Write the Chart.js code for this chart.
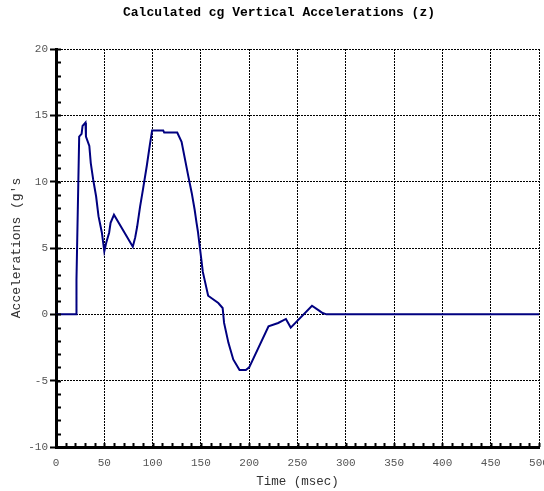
<!DOCTYPE html>
<html>
<head>
<meta charset="utf-8">
<script src="https://cdn.jsdelivr.net/npm/chart.js@4.4.0/dist/chart.umd.min.js"></script>
<style>
  html, body { margin: 0; padding: 0; background: #fff; }
</style>
</head>
<body>
<canvas id="accChart" width="544" height="491"></canvas>
<script>
// cg vertical acceleration trace, time in msec, acceleration in g's
const timeMs = [0, 21, 21.2, 24, 26.5, 27.5, 30.5, 31, 34.5, 36, 38.5, 41.5, 44, 47.5, 50,
  52, 55, 56.5, 60, 79.5, 82, 84, 87, 90, 94, 97, 99.5, 111, 112, 125.5,
  130, 133.5, 137, 140.5, 143.5, 145.5, 147, 149, 152, 157.5, 168, 172.5, 174, 178.5, 183.5,
  190, 196.5, 200, 220, 230, 238, 243, 265, 272, 276, 280, 500];
const accelG = [0, 0, 2.6, 13.4, 13.6, 14.2, 14.45, 13.4, 12.7, 11.4, 10.15, 8.9, 7.4, 6.15, 4.75,
  5.4, 6.15, 6.9, 7.5, 5.1, 5.8, 6.6, 8.1, 9.4, 11.2, 12.7, 13.85, 13.85, 13.7, 13.7,
  13.0, 11.7, 10.4, 9.15, 7.9, 6.9, 6.2, 5.0, 3.2, 1.4, 0.85, 0.48, -0.65, -2.15, -3.4,
  -4.2, -4.2, -4.0, -0.9, -0.65, -0.35, -1.0, 0.65, 0.3, 0.1, 0, 0];

const xTickValues = [0, 50, 100, 150, 200, 250, 300, 350, 400, 450, 500];
const yTickValues = [-10, -5, 0, 5, 10, 15, 20];
const xMinorStep = 10;
const yMinorStep = 1;

const mono = '"Liberation Mono", "Courier New", monospace';

// small inward tick marks between the labelled ones
const minorTicks = {
  id: 'minorTicks',
  afterDraw(chart) {
    const {ctx, chartArea, scales: {x, y}} = chart;
    ctx.save();
    ctx.strokeStyle = '#000';
    ctx.lineWidth = 2;
    ctx.beginPath();
    for (let v = y.min; v <= y.max; v += yMinorStep) {
      const py = Math.round(y.getPixelForValue(v)) + 0.5;
      ctx.moveTo(chartArea.left, py);
      ctx.lineTo(chartArea.left + 5, py);
    }
    for (let v = x.min; v <= x.max; v += xMinorStep) {
      const px = Math.round(x.getPixelForValue(v)) + 0.5;
      ctx.moveTo(px, chartArea.bottom);
      ctx.lineTo(px, chartArea.bottom - 4);
    }
    ctx.stroke();
    ctx.restore();
  }
};

const heading = {
  id: 'heading',
  afterDraw(chart) {
    const ctx = chart.ctx;
    ctx.save();
    ctx.font = 'bold 13px ' + mono;
    ctx.fillStyle = '#000';
    ctx.textAlign = 'center';
    ctx.textBaseline = 'middle';
    ctx.fillText('Calculated cg Vertical Accelerations (z)', 279, 13);
    ctx.restore();
  }
};

new Chart(document.getElementById('accChart'), {
  type: 'line',
  data: {
    datasets: [{
      data: timeMs.map((t, i) => ({x: t, y: accelG[i]})),
      borderColor: '#000080',
      borderWidth: 2,
      pointRadius: 0,
      tension: 0,
      fill: false
    }]
  },
  options: {
    responsive: false,
    animation: false,
    layout: { padding: { top: 49, left: 0, right: 5, bottom: 0 } },
    plugins: { legend: { display: false }, tooltip: { enabled: false } },
    scales: {
      x: {
        type: 'linear',
        min: 0,
        max: 500,
        afterBuildTicks: s => { s.ticks = xTickValues.map(v => ({value: v})); },
        afterFit: s => { s.height = 44; s.paddingLeft = 0; s.paddingRight = 0; },
        grid: { color: '#000', lineWidth: 1, drawTicks: false },
        border: { display: true, color: '#000', width: 3, dash: [2, 1] },
        ticks: { color: '#555', font: { family: mono, size: 11 }, padding: 9, maxRotation: 0 },
        title: { display: true, text: 'Time (msec)', color: '#333', font: { family: mono, size: 12.5 }, padding: { top: 0, bottom: 2 } }
      },
      y: {
        type: 'linear',
        min: -10,
        max: 20,
        afterBuildTicks: s => { s.ticks = yTickValues.map(v => ({value: v})); },
        afterFit: s => { s.width = 56; s.paddingTop = 0; s.paddingBottom = 0; },
        grid: { color: '#000', lineWidth: 1, tickLength: 6, tickWidth: 2, tickColor: '#000' },
        border: { display: true, color: '#000', width: 3, dash: [2, 1] },
        ticks: { color: '#555', font: { family: mono, size: 11 }, padding: 2 },
        title: { display: true, text: "Accelerations (g's", color: '#333', font: { family: mono, size: 13 }, padding: { top: 9, bottom: 0 } }
      }
    }
  },
  plugins: [minorTicks, heading]
});
</script>
</body>
</html>
